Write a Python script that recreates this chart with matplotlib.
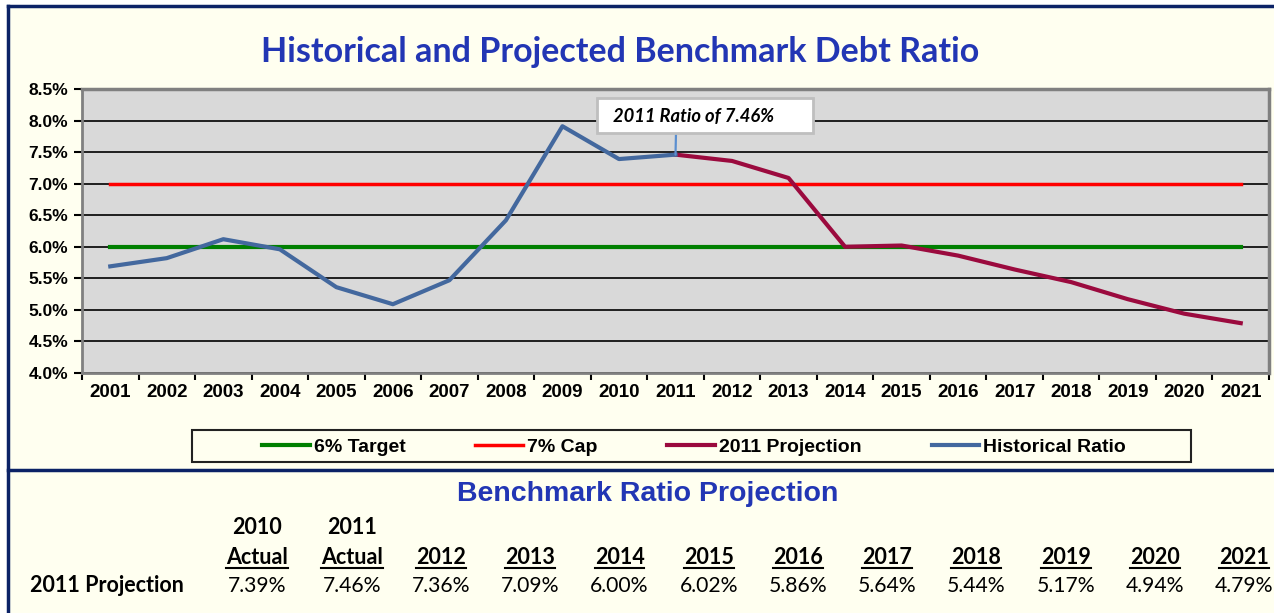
"""
Historical and projected benchmark debt ratio, with the projection table below.
"""
import numpy as np
import matplotlib.pyplot as plt
from matplotlib.lines import Line2D
from matplotlib.patches import Rectangle

# --- data ----------------------------------------------------------------
years = list(range(2001, 2022))
hist_years = list(range(2001, 2012))
hist_ratio = [5.69, 5.82, 6.12, 5.96, 5.36, 5.09, 5.47, 6.42, 7.91, 7.39, 7.46]
proj_years = list(range(2011, 2022))
proj_ratio = [7.46, 7.36, 7.09, 6.00, 6.02, 5.86, 5.64, 5.44, 5.17, 4.94, 4.79]
target_ratio = 6.0
cap_ratio = 7.0
yticks = [4.0, 4.5, 5.0, 5.5, 6.0, 6.5, 7.0, 7.5, 8.0, 8.5]

table_top = ['2010', '2011'] + [''] * 10
table_cols = ['Actual', 'Actual'] + [str(y) for y in range(2012, 2022)]
table_vals = [7.39] + proj_ratio

# --- layout helpers (reference is 1274 x 613 px) -------------------------
W, H = 1274, 613
NAVY = '#0B2266'
BLUE = '#2236B4'
CREAM = '#FFFFF0'
CAL = ['Lato', 'DejaVu Sans']
ARI = ['Liberation Sans', 'DejaVu Sans']


def fx(px):
    return px / W


def fy(py):
    return 1 - py / H


fig = plt.figure(figsize=(W / 100, H / 100), dpi=100)
fig.patch.set_facecolor('white')
fig.add_artist(Rectangle((fx(8), 0), 1 - fx(8), fy(6), transform=fig.transFigure,
                         fc=CREAM, ec='none', zorder=-10))
for xs_, ys_ in [([fx(8), fx(8)], [0, fy(6)]),
                 ([fx(8), 1], [fy(6), fy(6)]),
                 ([fx(8), 1], [fy(470), fy(470)])]:
    fig.add_artist(Line2D(xs_, ys_, transform=fig.transFigure, color=NAVY, lw=2.5))

# --- chart ---------------------------------------------------------------
ax = fig.add_axes([fx(82), fy(373), fx(1269) - fx(82), fy(89) - fy(373)])
ax.set_facecolor('#D9D9D9')

x_all = np.array(years) - years[0]
x_hist = np.array(hist_years) - years[0]
x_proj = np.array(proj_years) - years[0]

l_target, = ax.plot(x_all, [target_ratio] * len(years), color='#008000', lw=3,
                    label='6% Target', zorder=3)
l_cap, = ax.plot(x_all, [cap_ratio] * len(years), color='#FF0000', lw=2.5,
                 label='7% Cap', zorder=3)
l_proj, = ax.plot(x_proj, proj_ratio, color='#9B0A3E', lw=3,
                  label='2011 Projection', zorder=4)
l_hist, = ax.plot(x_hist, hist_ratio, color='#43689E', lw=3,
                  label='Historical Ratio', zorder=5)

ax.set_xlim(-0.5, len(years) - 0.5)
ax.set_ylim(yticks[0], yticks[-1])
ax.set_yticks(yticks)
ax.set_yticklabels([f'{v:.1f}%' for v in yticks])
ax.set_xticks(x_all)
ax.set_xticklabels([str(y) for y in years])
ax.set_xticks(np.arange(-0.5, len(years), 1), minor=True)
ax.tick_params(axis='x', which='major', length=0, pad=8)
ax.tick_params(axis='x', which='minor', length=5, width=1.5, color='black')
ax.tick_params(axis='y', length=6, width=1.5, color='black', pad=4)
for lab in ax.get_xticklabels():
    lab.set_family(ARI)
    lab.set_fontweight('bold')
    lab.set_fontsize(13.5)
for lab in ax.get_yticklabels():
    lab.set_family(ARI)
    lab.set_fontweight('bold')
    lab.set_fontsize(12.5)
ax.yaxis.grid(True, color='black', lw=1.2)
ax.set_axisbelow(True)
for side in ['top', 'right']:
    ax.spines[side].set_color('#808080')
    ax.spines[side].set_linewidth(2.5)
for side in ['left', 'bottom']:
    ax.spines[side].set_color('#808080')
    ax.spines[side].set_linewidth(2)

# callout for the 2011 ratio
ax.annotate('', xy=(hist_years.index(2011), hist_ratio[-1]), xytext=(676, H - 133),
            textcoords='figure pixels',
            arrowprops=dict(arrowstyle='-', color='#5B8FD0', lw=1.6,
                            shrinkA=0, shrinkB=0), zorder=6)
fig.add_artist(Rectangle((fx(597), fy(133)), fx(813) - fx(597), fy(98) - fy(133),
                         transform=fig.transFigure, fc='white', ec='#BFBFBF', lw=2,
                         zorder=5))
fig.text(fx(613), fy(117), '2011 Ratio of 7.46%', ha='left', va='center',
         family=CAL, fontsize=13.2, fontweight='bold', fontstyle='italic', zorder=6)

fig.text(fx(620), fy(52), 'Historical and Projected Benchmark Debt Ratio',
         ha='center', va='center', family=CAL, fontsize=24.5, fontweight='bold',
         color=BLUE)

# legend
fig.add_artist(Rectangle((fx(192), fy(462)), fx(1191) - fx(192), fy(430) - fy(462),
                         transform=fig.transFigure, fc='none', ec='#222222', lw=1.5))
fig.legend(handles=[l_target, l_cap, l_proj, l_hist], ncol=4, loc='center',
           bbox_to_anchor=(fx(694), fy(447)), frameon=False,
           prop=dict(family=ARI, weight='bold', size=14),
           handlelength=2.45, handletextpad=0.2, columnspacing=3.6)

# --- projection table ----------------------------------------------------
fig.text(fx(648), fy(494), 'Benchmark Ratio Projection', ha='center', va='center',
         family=ARI, fontsize=20.5, fontweight='bold', color=BLUE)
fig.text(fx(30), fy(586), '2011 Projection', ha='left', va='center',
         family=CAL, fontsize=15.5, fontweight='bold')

col_x = [257] + list(np.linspace(352, 1244, 11))
head_texts = []
for cx, top, head, val in zip(col_x, table_top, table_cols, table_vals):
    if top:
        fig.text(fx(cx), fy(528), top, ha='center', va='center', family=CAL,
                 fontsize=15.5, fontweight='bold')
    head_texts.append(fig.text(fx(cx), fy(558), head, ha='center', va='center',
                               family=CAL, fontsize=15.5, fontweight='bold'))
    fig.text(fx(cx), fy(586), f'{val:.2f}%', ha='center', va='center', family=CAL,
             fontsize=15.2)

# underline the column headings
fig.canvas.draw()
r = fig.canvas.get_renderer()
inv = fig.transFigure.inverted()
for t in head_texts:
    bb = t.get_window_extent(r)
    (x0, y0), (x1, _) = inv.transform([(bb.x0, bb.y0 + 1), (bb.x1, bb.y1)])
    fig.add_artist(Line2D([x0, x1], [y0, y0], transform=fig.transFigure,
                          color='black', lw=1.5))

fig.savefig('out.png', dpi=100, facecolor=fig.get_facecolor())
